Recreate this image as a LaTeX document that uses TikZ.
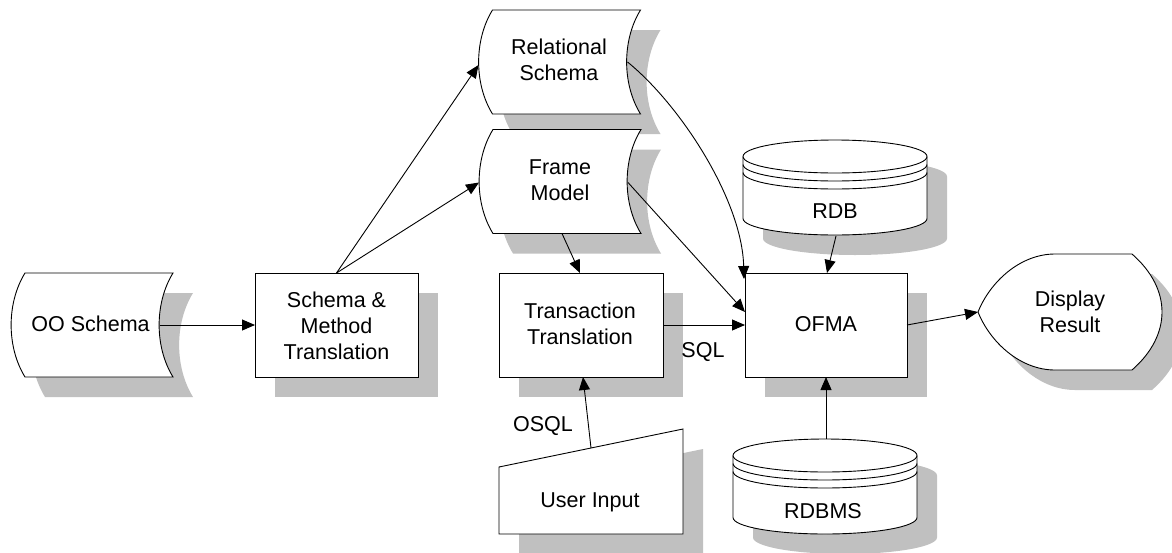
\documentclass[tikz,border=0pt]{standalone}
\usepackage{fontspec}
\setmainfont{Liberation Sans}
\usetikzlibrary{arrows.meta,calc}
\definecolor{shadowgray}{RGB}{192,192,192}

\tikzset{
  slot/.style 2 args={minimum width=#1, minimum height=#2, inner sep=0pt, outer sep=0pt},
  outline/.style={draw=black, line width=0.9pt, fill=white, line join=miter},
  dropshadow/.style={fill=shadowgray, draw=none},
  thinline/.style={draw=black, line width=0.9pt},
  caption/.style={inner sep=0pt, outer sep=0pt, align=center},
  conn/.style={draw=black, line width=0.9pt, -{Triangle[length=13pt,width=11pt]}},
}

% stored-data block: both sides bowed to the left
\newcommand\storedpath[1]{\path[#1] (-74,-52) -- (74,-52)
  .. controls (55.5,-22) and (55.5,22) .. (74,52) -- (-74,52)
  .. controls (-92.5,22) and (-92.5,-22) .. (-74,-52) -- cycle;}
\newcommand\storedshape[1]{%
  \begin{scope}[shift={(#1.center)}]
    \begin{scope}[shift={(20,20)}]\storedpath{dropshadow}\end{scope}
    \storedpath{outline}
  \end{scope}}

% database cylinder with two extra rims under the lid
\newcommand\cylpath[1]{\path[#1] (-92,-31) -- (-92,31)
  .. controls (-92,40.1) and (-50.8,47.5) .. (0,47.5)
  .. controls (50.8,47.5) and (92,40.1) .. (92,31) -- (92,-31)
  .. controls (92,-40.1) and (50.8,-47.5) .. (0,-47.5)
  .. controls (-50.8,-47.5) and (-92,-40.1) .. (-92,-31) -- cycle;}
\newcommand\cylshape[1]{%
  \begin{scope}[shift={(#1.center)}]
    \begin{scope}[shift={(20,20)}]\cylpath{dropshadow}\end{scope}
    \cylpath{outline}
    \foreach \c in {-31,-23,-15}{
      \draw[thinline] (-92,\c) .. controls (-92,\c+9.1) and (-50.8,\c+16.5) .. (0,\c+16.5)
        .. controls (50.8,\c+16.5) and (92,\c+9.1) .. (92,\c);
    }
  \end{scope}}

% plain process box
\newcommand\boxshape[1]{%
  \fill[dropshadow] ([shift={(20,20)}]#1.north west) rectangle ([shift={(20,20)}]#1.south east);
  \draw[outline] (#1.north west) rectangle (#1.south east);}

% display block: pointed left end, rounded right end
\newcommand\disppath[1]{\path[#1] (-15,-58) -- (62,-58)
  .. controls (102,-23) and (102,23) .. (62,58) -- (-15,58)
  .. controls (-50,58) and (-80,30) .. (-92,0)
  .. controls (-80,-30) and (-50,-58) .. (-15,-58) -- cycle;}

% manual input block: slanted top
\newcommand\inputpath[1]{\path[#1] (-92,-14.5) -- (92,-52.5) -- (92,52.5) -- (-92,52.5) -- cycle;}

\begin{document}
\begin{tikzpicture}[x=1pt,y=-1pt,font=\fontsize{21.5}{26}\selectfont]
\useasboundingbox (0,0) rectangle (1172,552);

% block frames
\node[slot={148}{104}] (oo)    at (99,325)    {};
\node[slot={163}{104}] (smt)   at (336.5,325) {};
\node[slot={148}{104}] (rel)   at (566.5,62)  {};
\node[slot={148}{104}] (frm)   at (567,181.5) {};
\node[slot={164}{104}] (tt)    at (581,325)   {};
\node[slot={162}{104}] (ofma)  at (826,325)   {};
\node[slot={184}{95}]  (rdb)   at (835,187.5) {};
\node[slot={184}{95}]  (rdbms) at (825,486.5) {};
\node[slot={184}{116}] (disp)  at (1070,312)  {};
\node[slot={184}{105}] (ui)    at (591,481.5) {};

% shapes with their shadows
\storedshape{oo}
\boxshape{smt}
\storedshape{rel}
\storedshape{frm}
\cylshape{rdb}
\boxshape{tt}
\boxshape{ofma}
\begin{scope}[shift={(disp.center)}]
  \begin{scope}[shift={(20,20)}]\disppath{dropshadow}\end{scope}
  \disppath{outline}
\end{scope}
\begin{scope}[shift={(ui.center)}]
  \begin{scope}[shift={(20,20)}]\inputpath{dropshadow}\end{scope}
  \inputpath{outline}
\end{scope}
\cylshape{rdbms}

% block texts
\node[caption,anchor=base] (oo-t)    at (90.5,331.7) {OO Schema};
\node[caption]             (smt-t)   at (336.5,325.5) {Schema \&\\Method\\Translation};
\node[caption]             (rel-t)   at (559,60)     {Relational\\Schema};
\node[caption]             (frm-t)   at (560,180)    {Frame\\Model};
\node[caption]             (tt-t)    at (580,324)    {Transaction\\Translation};
\node[caption,anchor=base] (ofma-t)  at (826,331.7)  {OFMA};
\node[caption,anchor=base] (rdb-t)   at (835,218)    {RDB};
\node[caption,anchor=base] (rdbms-t) at (823,518)    {RDBMS};
\node[caption]             (disp-t)  at (1070,311.5) {Display\\Result};
\node[caption,anchor=base] (ui-t)    at (590,507)    {User Input};

% connectors
\draw[conn] ($(oo.east)+(-13,0)$) -- (smt.west);
\draw[conn] (smt.north) -- ($(rel.west)+(-14,3)$);
\draw[conn] (smt.north) -- ($(frm.west)+(-14,1)$);
\draw[conn] ($(rel.east)+(-13,0)$) .. controls +(53,43) and +(-2,-79) .. ($(ofma.north west)+(-1,6)$);
\draw[conn] ($(frm.east)+(-13,1)$) -- ($(ofma.west)+(0,-13)$);
\draw[conn] ($(frm.south)+(-5,0)$) -- ($(tt.north)+(-1,0)$);
\draw[conn] (tt.east) -- (ofma.west);
\draw[conn] ($(ui.center)+(0,-33.5)$) -- ($(tt.south)+(2,0)$);
\draw[conn] (ofma.south |- rdbms.north) -- (ofma.south);
\draw[conn] ($(rdb.south)+(1,1)$) -- ($(ofma.north)+(1,0)$);
\draw[conn] (ofma.east) -- (disp.west);

% connector labels
\node[caption,anchor=base] (sql)  at (703,357) {SQL};
\node[caption,anchor=base] (osql) at (543,431) {OSQL};
\end{tikzpicture}
\end{document}
